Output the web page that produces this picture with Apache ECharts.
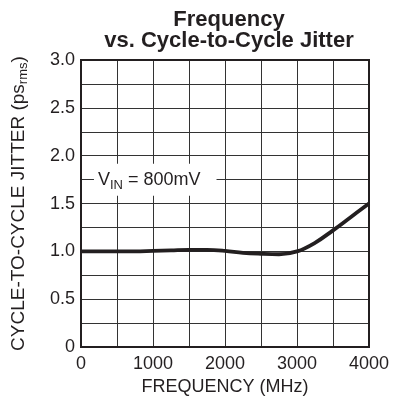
<!DOCTYPE html>
<html>
<head>
<meta charset="utf-8">
<script src="https://cdn.jsdelivr.net/npm/echarts@6/dist/echarts.min.js"></script>
<style>
  html, body { margin: 0; padding: 0; background: #fff; }
  #chart { width: 408px; height: 401px; }
</style>
</head>
<body>
<div id="chart"></div>
<script>
// 频率 (MHz)
var freq = [0, 250, 500, 750, 1000, 1250, 1500, 1750, 2000, 2250, 2500, 2750, 3000, 3250, 3500, 3750, 4000];
// 抖动 (ps rms)
var jitter = [1.0, 1.0, 1.0, 1.0, 1.005, 1.01, 1.015, 1.015, 1.005, 0.985, 0.975, 0.97, 1.0, 1.09, 1.22, 1.36, 1.5];
var xTicks = [0, 1000, 2000, 3000, 4000];
var yTicks = [0, 0.5, 1.0, 1.5, 2.0, 2.5, 3.0];

var ink = '#231f20';
var font = '"Liberation Sans", Arial, sans-serif';

var myChart = echarts.init(document.getElementById('chart'));

var points = freq.map(function (f, i) { return [f, jitter[i]]; });

var option = {
    animation: false,
    title: {
        text: 'Frequency\nvs. Cycle-to-Cycle Jitter',
        left: 224,
        top: 4,
        textAlign: 'center',
        textStyle: { fontFamily: font, fontSize: 22, fontWeight: 'bold', color: ink, lineHeight: 21 }
    },
    grid: { left: 81, right: 39, top: 60, bottom: 53, show: false },
    xAxis: {
        type: 'value',
        min: 0, max: 4000, interval: 500,
        name: 'FREQUENCY (MHz)',
        nameLocation: 'middle',
        nameGap: 30,
        nameTextStyle: { fontFamily: font, fontSize: 18, color: ink },
        axisLine: { show: false },
        axisTick: { show: false },
        axisLabel: {
            margin: 8,
            fontFamily: font, fontSize: 18, color: ink,
            formatter: function (v) { return xTicks.indexOf(v) >= 0 ? String(v) : ''; }
        },
        splitLine: { show: true, lineStyle: { color: '#333', width: 1 } }
    },
    yAxis: {
        type: 'value',
        min: 0, max: 3, interval: 0.25,
        name: '{n|CYCLE-TO-CYCLE JITTER (ps}{s|rms}{n|)}',
        nameLocation: 'middle',
        nameGap: 51,
        nameTextStyle: {
            rich: {
                n: { fontFamily: font, fontSize: 19, color: ink },
                s: { fontFamily: font, fontSize: 13, color: ink, padding: [10, 0, 0, 0] }
            }
        },
        axisLine: { show: false },
        axisTick: { show: false },
        axisLabel: {
            margin: 6,
            fontFamily: font, fontSize: 18, color: ink,
            formatter: function (v) {
                var hit = yTicks.some(function (t) { return Math.abs(t - v) < 1e-9; });
                if (!hit) return '';
                return v === 0 ? '0' : v.toFixed(1);
            }
        },
        splitLine: { show: true, lineStyle: { color: '#333', width: 1 } }
    },
    series: [{
        type: 'line',
        data: points,
        smooth: 0.4,
        symbol: 'none',
        lineStyle: { color: ink, width: 3.8 },
        z: 5
    }]
};

myChart.setOption(option);

// 外框和标注
var tl = myChart.convertToPixel({ gridIndex: 0 }, [0, 3]);
var br = myChart.convertToPixel({ gridIndex: 0 }, [4000, 0]);
var lab = myChart.convertToPixel({ gridIndex: 0 }, [180, 1.75]);

myChart.setOption({
    graphic: [
        {
            type: 'rect',
            shape: { x: tl[0], y: tl[1], width: br[0] - tl[0], height: br[1] - tl[1] },
            style: { fill: 'none', stroke: ink, lineWidth: 2 },
            z: 10
        },
        {
            type: 'text',
            x: lab[0],
            y: lab[1],
            z: 10,
            style: {
                text: '{n|V}{s|IN}{n| = 800mV}',
                verticalAlign: 'middle',
                backgroundColor: '#fff',
                padding: [4, 16, 4, 4],
                rich: {
                    n: { fontFamily: font, fontSize: 18, fill: ink },
                    s: { fontFamily: font, fontSize: 13, fill: ink, padding: [11, 0, 0, 0] }
                }
            }
        }
    ]
});
</script>
</body>
</html>
